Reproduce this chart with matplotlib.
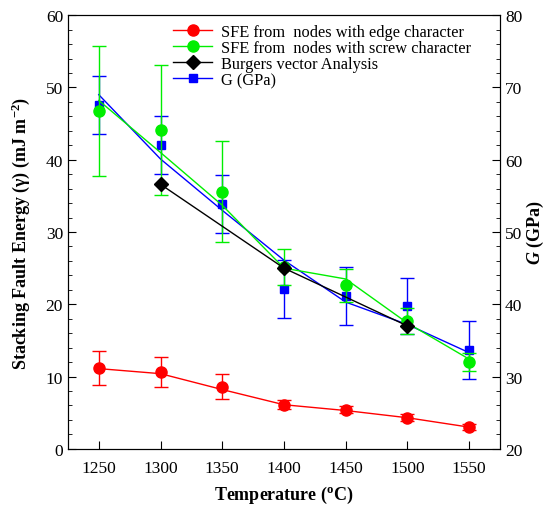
import numpy as np
import matplotlib
matplotlib.use('Agg')
import matplotlib.pyplot as plt
from matplotlib.legend_handler import HandlerTuple

plt.rcParams['font.family'] = ['Liberation Serif', 'DejaVu Serif']
plt.rcParams['mathtext.fontset'] = 'custom'
plt.rcParams['mathtext.rm'] = 'Liberation Serif'
plt.rcParams['mathtext.bf'] = 'Liberation Serif:bold'
plt.rcParams['mathtext.it'] = 'Liberation Serif:italic'
plt.rcParams['mathtext.bfit'] = 'Liberation Serif:italic:bold'

# temperatures (C)
temp = [1250, 1300, 1350, 1400, 1450, 1500, 1550]

# SFE from nodes with edge character (mJ m-2)
edge = [11.2, 10.6, 8.6, 6.1, 5.4, 4.3, 3.0]
edge_err = [2.3, 2.1, 1.7, 0.6, 0.5, 0.5, 0.4]
edge_fit = [11.1, 10.4, 8.2, 6.1, 5.3, 4.3, 3.0]

# SFE from nodes with screw character
screw = [46.8, 44.1, 35.6, 25.1, 22.6, 17.7, 12.0]
screw_err = [9.0, 9.0, 7.0, 2.5, 2.3, 1.8, 1.2]
screw_fit = [48.2, 41.0, 33.7, 25.0, 23.5, 17.4, 12.4]

# Burgers vector analysis
burg_t = [1300, 1400, 1500]
burg = [36.6, 25.0, 17.0]

# shear modulus G (GPa), right axis
G = [67.6, 62.0, 53.9, 42.1, 41.1, 39.8, 33.7]
G_err = [4.0, 4.0, 4.0, 4.0, 4.0, 3.9, 4.0]
G_fit = [69.0, 60.1, 53.0, 46.1, 40.3, 37.2, 33.3]

fig = plt.figure(figsize=(5.52, 5.06), dpi=100)
ax = fig.add_axes([0.123, 0.111, 0.783, 0.857])
ax2 = ax.twinx()
ax.set_zorder(ax2.get_zorder() + 1)
ax.patch.set_visible(False)

# blue on right axis
lb, = ax2.plot(temp, G_fit, color='blue', lw=1)
ax2.errorbar(temp, G, yerr=G_err, fmt='none', ecolor='blue', elinewidth=1, capsize=5, capthick=1)
pb, = ax2.plot(temp, G, 's', color='blue', ms=6, ls='none')

lr, = ax.plot(temp, edge_fit, color='red', lw=1)
ax.errorbar(temp, edge, yerr=edge_err, fmt='none', ecolor='red', elinewidth=1, capsize=5, capthick=1)
pr, = ax.plot(temp, edge, 'o', color='red', ms=8, ls='none')

lg, = ax.plot(temp, screw_fit, color='#00ee00', lw=1)
ax.errorbar(temp, screw, yerr=screw_err, fmt='none', ecolor='#00ee00', elinewidth=1, capsize=5, capthick=1)
pg, = ax.plot(temp, screw, 'o', color='#00ee00', ms=8, ls='none')

lk, = ax.plot(burg_t, burg, color='black', lw=1)
pk, = ax.plot(burg_t, burg, 'D', color='black', ms=7, ls='none')

ax.set_xlim(1225, 1575)
ax.set_ylim(0, 60)
ax2.set_ylim(20, 80)
ax.set_xticks(temp)
ax.set_yticks(np.arange(0, 61, 10))
ax.set_yticks(np.arange(0, 61, 2), minor=True)
ax2.set_yticks(np.arange(20, 81, 10))
ax2.set_yticks(np.arange(20, 81, 2), minor=True)

ax.tick_params(axis='both', which='both', direction='in', labelsize=12.5)
ax.tick_params(axis='y', which='major', length=6, right=False)
ax.tick_params(axis='y', which='minor', length=3, right=False)
ax.tick_params(axis='x', which='major', length=6, top=False, pad=8)
ax2.tick_params(axis='y', which='both', direction='in', labelsize=12.5)
ax2.tick_params(axis='y', which='major', length=6)
ax2.tick_params(axis='y', which='minor', length=3)

ax.set_xlabel('Temperature ($^{\\mathbf{o}}$C)', fontsize=13, fontweight='bold', labelpad=6)
ax.set_ylabel('Stacking Fault Energy (γ) (mJ m$^{\\mathbf{-2}}$)', fontsize=13, fontweight='bold', labelpad=10)
ax2.set_ylabel('$\\mathbfit{G}$ (GPa)', fontsize=13, fontweight='bold', labelpad=2)

handles = [(lr, pr), (lg, pg), (lk, pk), (lb, pb)]
labels = ['SFE from  nodes with edge character', 'SFE from  nodes with screw character',
          'Burgers vector Analysis', 'G (GPa)']
ax.legend(handles, labels, handler_map={tuple: HandlerTuple(ndivide=1)},
          loc='upper left', bbox_to_anchor=(0.228, 0.995), frameon=False, fontsize=11.8,
          handlelength=2.4, handletextpad=0.5, labelspacing=0.0, borderaxespad=0.0)

fig.savefig('out.png', dpi=100)
